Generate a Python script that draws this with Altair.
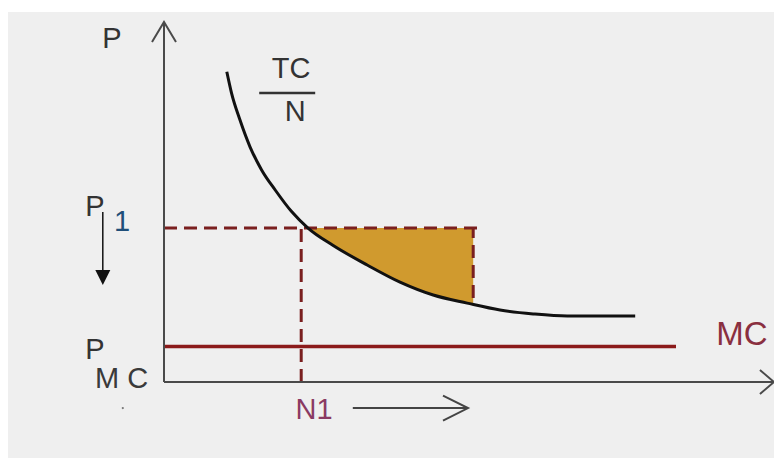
import altair as alt
import pandas as pd

# ---- data ----
# average cost curve TC/N
curve_n = [1.57, 1.69, 1.90, 2.15, 2.44, 2.78, 3.19, 3.60, 4.23, 5.08, 5.90, 6.73, 7.58, 8.40, 9.23, 10.08, 11.78]
curve_p = [10.34, 9.62, 8.73, 7.84, 7.07, 6.40, 5.68, 5.13, 4.55, 3.90, 3.33, 2.90, 2.63, 2.40, 2.27, 2.20, 2.20]

# shaded area between P1 and the curve
shade_n = [3.60, 4.23, 5.08, 5.90, 6.73, 7.58, 7.73]
shade_p = [5.13, 4.55, 3.90, 3.33, 2.90, 2.63, 2.59]

P1 = 5.13        # price level P1
P_MC = 1.18      # marginal-cost price
N1 = 3.43        # quantity N1
N2 = 7.73        # right edge of shaded region
N_P1_END = 7.90  # end of dashed P1 line
P_N2_LOW = 2.80  # bottom of right dashed line
MC_END = 12.80
Y_TOP = 12.0
X_END = 15.25

# labels: text, n, p, colour, font size
lab_text = ["P", "TC", "N", "P", "1", "P", "M C", "N1", "MC"]
lab_n = [-1.30, 3.18, 3.28, -1.73, -1.05, -1.73, -1.06, 3.75, 14.45]
lab_p = [11.43, 10.43, 9.00, 5.83, 5.33, 1.07, 0.10, -0.93, 1.57]
lab_col = ["#333333", "#333333", "#333333", "#333333", "#1f4e79", "#333333", "#3a3a3a", "#8a3a63", "#8a2f40"]
lab_size = [29, 29, 29, 29, 29, 29, 29, 29, 33]

XD = [-3.9, 15.25]
YD = [-2.5333, 12.3333]


def X(f="n"):
    return alt.X(f"{f}:Q", scale=alt.Scale(domain=XD), axis=None)


def Y(f="p"):
    return alt.Y(f"{f}:Q", scale=alt.Scale(domain=YD), axis=None)


curve_df = pd.DataFrame({"n": curve_n, "p": curve_p})
shade_df = pd.DataFrame({"n": shade_n, "p": shade_p, "top": [P1] * len(shade_n)})

area = alt.Chart(shade_df).mark_area(color="#d09a2e", opacity=1, interpolate="monotone").encode(
    x=X(), y=Y(), y2="top:Q"
)

curve = alt.Chart(curve_df).mark_line(color="#111111", strokeWidth=3, interpolate="monotone").encode(
    x=X(), y=Y()
)

# dashed guide lines
dash_df = pd.DataFrame({
    "n": [0, N1, N2],
    "n2": [N_P1_END, N1, N2],
    "p": [P1, 0, P_N2_LOW],
    "p2": [P1, P1, P1],
})
dashes = alt.Chart(dash_df).mark_rule(color="#7a1f1f", strokeWidth=3, strokeDash=[13, 7]).encode(
    x=X(), x2="n2:Q", y=Y(), y2="p2:Q"
)

# MC line
mc_df = pd.DataFrame({"n": [0], "n2": [MC_END], "p": [P_MC]})
mc = alt.Chart(mc_df).mark_rule(color="#8b1a1a", strokeWidth=3.5).encode(
    x=X(), x2="n2:Q", y=Y()
)

# axes
ax_df = pd.DataFrame({"n": [0, 0], "n2": [0, X_END], "p": [0, 0], "p2": [Y_TOP, 0]})
axes = alt.Chart(ax_df).mark_rule(color="#4a4a4a", strokeWidth=2).encode(
    x=X(), x2="n2:Q", y=Y(), y2="p2:Q"
)

y_head = alt.Chart(pd.DataFrame({"n": [0], "p": [Y_TOP]})).mark_point(
    shape="M-1,1.67L0,0L1,1.67", filled=False, size=576, strokeWidth=2, color="#4a4a4a", opacity=1
).encode(x=X(), y=Y())

x_head = alt.Chart(pd.DataFrame({"n": [X_END], "p": [0]})).mark_point(
    shape="M-1.17,-1L0,0L-1.17,1", filled=False, size=576, strokeWidth=2, color="#4a4a4a", opacity=1
).encode(x=X(), y=Y())

# N1 arrow
n_arrow_df = pd.DataFrame({"n": [4.72], "n2": [7.60], "p": [-0.87]})
n_arrow = alt.Chart(n_arrow_df).mark_rule(color="#444444", strokeWidth=2).encode(
    x=X(), x2="n2:Q", y=Y()
)
n_head = alt.Chart(pd.DataFrame({"n": [7.60], "p": [-0.87]})).mark_point(
    shape="M-2,-1L0,0L-2,1", filled=False, size=625, strokeWidth=2, color="#444444", opacity=1
).encode(x=X(), y=Y())

# down arrow next to P1
d_arrow_df = pd.DataFrame({"n": [-1.53], "p": [5.67], "p2": [3.40]})
d_arrow = alt.Chart(d_arrow_df).mark_rule(color="#111111", strokeWidth=1.5).encode(
    x=X(), y=Y(), y2="p2:Q"
)
d_head = alt.Chart(pd.DataFrame({"n": [-1.53], "p": [3.48]})).mark_point(
    shape="M-1,-1L1,-1L0,1Z", filled=True, size=225, color="#111111", opacity=1
).encode(x=X(), y=Y())

# fraction bar of TC/N
bar_df = pd.DataFrame({"n": [2.38], "n2": [3.78], "p": [9.63]})
frac = alt.Chart(bar_df).mark_rule(color="#333333", strokeWidth=2.5).encode(
    x=X(), x2="n2:Q", y=Y()
)

dot = alt.Chart(pd.DataFrame({"n": [-1.03], "p": [-0.87]})).mark_point(
    filled=True, size=5, color="#777777", opacity=1
).encode(x=X(), y=Y())

lab_df = pd.DataFrame({"t": lab_text, "n": lab_n, "p": lab_p, "c": lab_col, "s": lab_size})
labels = alt.Chart(lab_df).mark_text(
    font="Liberation Sans", align="center", baseline="middle"
).encode(
    x=X(), y=Y(), text="t:N",
    color=alt.Color("c:N", scale=None),
    size=alt.Size("s:Q", scale=None),
)

chart = alt.layer(
    area, dashes, curve, mc, axes, y_head, x_head, n_arrow, n_head, d_arrow, d_head, frac, dot, labels
).properties(
    width=766, height=446,
    autosize=alt.AutoSizeParams(type="none"),
    padding={"left": 0, "top": 4, "right": 0, "bottom": 0},
    background="#ffffff",
).configure_view(stroke=None, fill="#efefef")

chart.save("out.html", embed_options={"renderer": "svg", "actions": False})
